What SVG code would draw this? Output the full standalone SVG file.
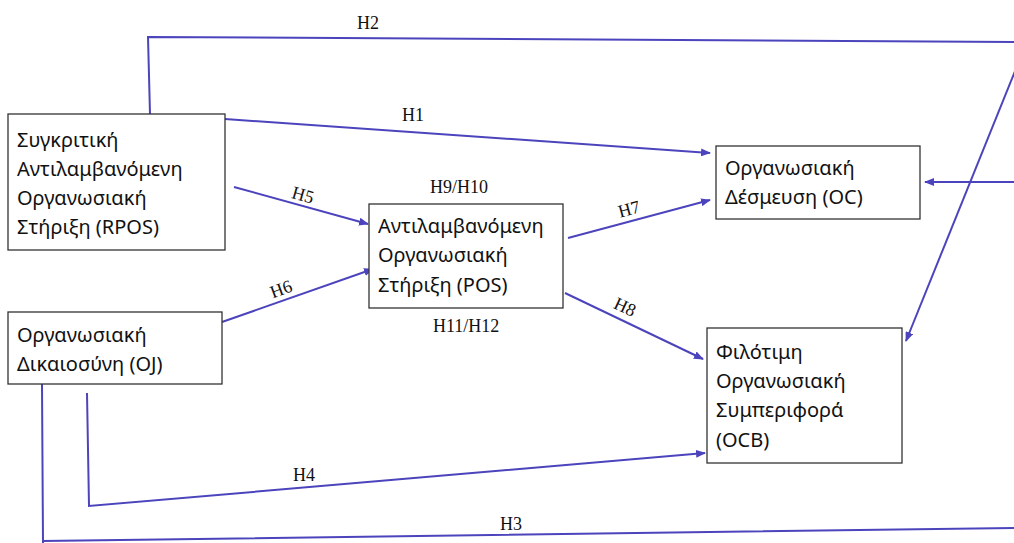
<svg xmlns="http://www.w3.org/2000/svg" width="1014" height="543" viewBox="0 0 1014 543">
<style>
.box{fill:#fff;stroke:#333;stroke-width:1.3}
.nt{font-family:"Noto Sans","Open Sans","DejaVu Sans",sans-serif;font-size:20px;fill:#111}
.lb{font-family:"Liberation Serif","Times New Roman",serif;font-size:18px;fill:#111}
.c{fill:none;stroke:#4c44bc;stroke-width:2}
</style>
<defs>
<marker id="ah" markerWidth="10" markerHeight="8" refX="9" refY="4" orient="auto" markerUnits="userSpaceOnUse">
<path d="M0,0 L10,4 L0,8 Z" fill="#4c44bc"/>
</marker>
</defs>
<rect width="1014" height="543" fill="#fff"/>
<g id="connectors">
<polyline class="c" points="150,114 148,37 1030,42"/>
<line class="c" x1="1030" y1="34" x2="906" y2="341" marker-end="url(#ah)"/>
<line class="c" x1="1014" y1="182" x2="925" y2="182" marker-end="url(#ah)"/>
<line class="c" x1="225" y1="119" x2="710" y2="153" marker-end="url(#ah)"/>
<line class="c" x1="234" y1="187" x2="368" y2="224" marker-end="url(#ah)"/>
<line class="c" x1="222" y1="322" x2="373" y2="269" marker-end="url(#ah)"/>
<line class="c" x1="568" y1="238" x2="710" y2="200" marker-end="url(#ah)"/>
<line class="c" x1="565" y1="293" x2="703" y2="359" marker-end="url(#ah)"/>
<polyline class="c" points="87,393 89,506 705,453" marker-end="url(#ah)"/>
<polyline class="c" points="42,384 43,543 43,541 1014,528"/>
<text class="lb" x="357" y="29">H2</text>
<text class="lb" x="402" y="121">H1</text>
<text class="lb" x="430" y="193">H9/H10</text>
<text class="lb" x="433" y="332">H11/H12</text>
<text class="lb" x="293" y="481">H4</text>
<text class="lb" x="500" y="530">H3</text>
<text class="lb" x="303" y="201" text-anchor="middle" transform="rotate(16 303 195)">H5</text>
<text class="lb" x="281" y="295" text-anchor="middle" transform="rotate(-20 281 289)">H6</text>
<text class="lb" x="629" y="215" text-anchor="middle" transform="rotate(-15 629 209)">H7</text>
<text class="lb" x="625" y="313" text-anchor="middle" transform="rotate(25 625 307)">H8</text>
</g>
<g id="rpos">
<rect class="box" x="8" y="114" width="217" height="136"/>
<text class="nt" x="17" y="147">Συγκριτική</text>
<text class="nt" x="17" y="176">Αντιλαμβανόμενη</text>
<text class="nt" x="17" y="205">Οργανωσιακή</text>
<text class="nt" x="17" y="234">Στήριξη (RPOS)</text>
</g>
<g id="oj">
<rect class="box" x="8" y="312" width="214" height="72"/>
<text class="nt" x="17" y="342">Οργανωσιακή</text>
<text class="nt" x="17" y="371">Δικαιοσύνη (OJ)</text>
</g>
<g id="pos">
<rect class="box" x="369" y="204" width="194" height="104"/>
<text class="nt" x="378" y="233">Αντιλαμβανόμενη</text>
<text class="nt" x="378" y="262">Οργανωσιακή</text>
<text class="nt" x="378" y="292">Στήριξη (POS)</text>
</g>
<g id="oc">
<rect class="box" x="716" y="146" width="204" height="73"/>
<text class="nt" x="725" y="175">Οργανωσιακή</text>
<text class="nt" x="725" y="204">Δέσμευση (OC)</text>
</g>
<g id="ocb">
<rect class="box" x="707" y="328" width="195" height="135"/>
<text class="nt" x="716" y="359">Φιλότιμη</text>
<text class="nt" x="716" y="388">Οργανωσιακή</text>
<text class="nt" x="716" y="417">Συμπεριφορά</text>
<text class="nt" x="716" y="447">(OCB)</text>
</g>
</svg>
